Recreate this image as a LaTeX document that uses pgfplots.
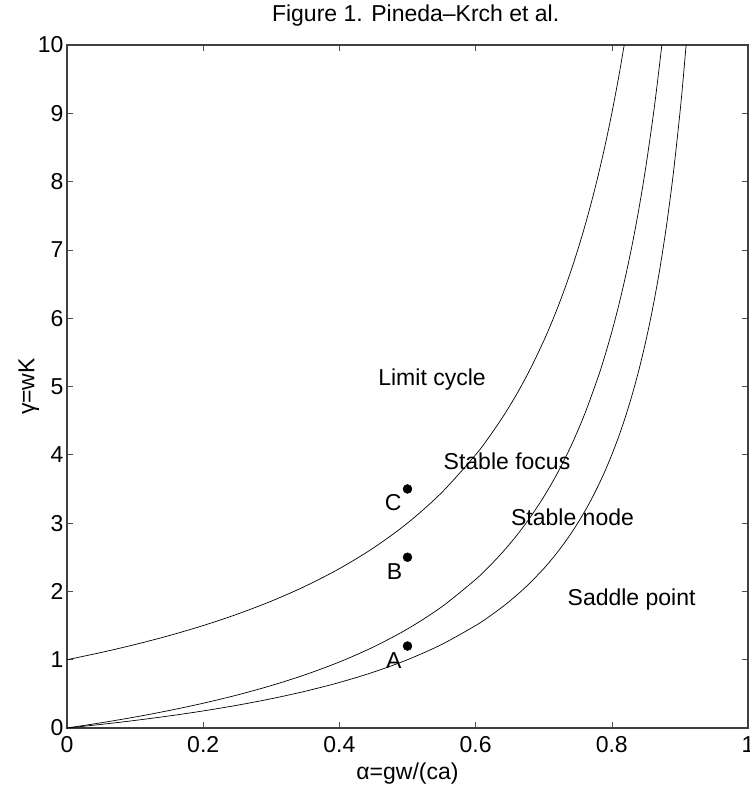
\documentclass[border=0pt]{standalone}
\usepackage{pgfplots}
\pgfplotsset{compat=1.18}
\usepackage{fontspec}
\setmainfont{Liberation Sans}
\newcommand{\fs}{\fontsize{23}{27}\selectfont}

% boundary curves
\pgfplotstableread{
a g
0 1
0.05 1.1053
0.1 1.2222
0.15 1.3529
0.2 1.5
0.25 1.6667
0.3 1.8571
0.35 2.0769
0.4 2.3333
0.45 2.6364
0.5 3
0.55 3.4444
0.6 4
0.62 4.2632
0.64 4.5556
0.66 4.8824
0.68 5.25
0.7 5.6667
0.71 5.8966
0.72 6.1429
0.73 6.4074
0.74 6.6923
0.75 7
0.76 7.3333
0.77 7.6957
0.78 8.0909
0.79 8.5238
0.8 9
0.81 9.5263
0.8182 10
}\hopf
\pgfplotstableread{
a g
0 0
0.05 0.0763
0.1 0.1611
0.15 0.2559
0.2 0.3625
0.25 0.4833
0.3 0.6214
0.35 0.7808
0.4 0.9667
0.45 1.1864
0.5 1.45
0.55 1.7722
0.6 2.175
0.62 2.3658
0.64 2.5778
0.66 2.8147
0.68 3.0813
0.7 3.3833
0.72 3.7286
0.74 4.1269
0.76 4.5917
0.78 5.1409
0.79 5.4548
0.8 5.8
0.81 6.1816
0.82 6.6056
0.83 7.0795
0.84 7.6125
0.85 8.2167
0.86 8.9071
0.865 9.2907
0.87 9.7038
0.8735 10
}\nodefocus
\pgfplotstableread{
a g
0 0
0.05 0.0526
0.1 0.1111
0.15 0.1765
0.2 0.25
0.25 0.3333
0.3 0.4286
0.35 0.5385
0.4 0.6667
0.45 0.8182
0.5 1
0.55 1.2222
0.6 1.5
0.62 1.6316
0.64 1.7778
0.66 1.9412
0.68 2.125
0.7 2.3333
0.71 2.4483
0.72 2.5714
0.73 2.7037
0.74 2.8462
0.75 3
0.76 3.1667
0.77 3.3478
0.78 3.5455
0.79 3.7619
0.8 4
0.81 4.2632
0.82 4.5556
0.83 4.8824
0.84 5.25
0.85 5.6667
0.86 6.1429
0.87 6.6923
0.88 7.3333
0.89 8.0909
0.9 9
0.905 9.5263
0.9091 10
}\saddle

\begin{document}
\begin{tikzpicture}
\path[use as bounding box] (-67pt,-60pt) rectangle (683pt,728pt);
\begin{axis}[
  at={(0pt,0pt)}, anchor=south west,
  scale only axis, width=681pt, height=683pt,
  xmin=0, xmax=1, ymin=0, ymax=10,
  xtick={0,0.2,0.4,0.6,0.8,1},
  xticklabels={0,0.2,0.4,0.6,0.8,1},
  ytick={0,1,2,3,4,5,6,7,8,9,10},
  tick align=inside, major tick length=6pt,
  tick style={gray!60!black, line width=0.6pt},
  axis line style={black!75, line width=1.3pt},
  ticklabel style={font=\fs},
  xticklabel style={yshift=-5pt},
  /pgf/number format/assume math mode=true,
  title={Figure 1. Pineda–Krch et al.},
  title style={font=\fs, at={(axis description cs:0.512,1.025)}, anchor=base},
  xlabel={α=gw/(ca)},
  xlabel style={font=\fs, at={(axis description cs:0.5,-0.066)}, anchor=center},
  ylabel={γ=wK},
  ylabel style={font=\fs, at={(axis description cs:-0.056,0.5)}, anchor=center},
]
\addplot[black, line width=0.7pt, smooth] table[x=a, y=g] {\hopf};
\addplot[black, line width=0.7pt, smooth] table[x=a, y=g] {\nodefocus};
\addplot[black, line width=0.7pt, smooth] table[x=a, y=g] {\saddle};
\addplot[only marks, mark=*, mark size=4.5pt, black] coordinates {(0.5,1.2) (0.5,2.5) (0.5,3.5)};
\node[font=\fs, anchor=west] at (axis cs:0.452,5.1) {Limit cycle};
\node[font=\fs, anchor=west] at (axis cs:0.548,3.9) {Stable focus};
\node[font=\fs, anchor=west] at (axis cs:0.647,3.08) {Stable node};
\node[font=\fs, anchor=west] at (axis cs:0.730,1.88) {Saddle point};
\node[font=\fs] at (axis cs:0.479,3.3) {C};
\node[font=\fs] at (axis cs:0.481,2.29) {B};
\node[font=\fs] at (axis cs:0.48,0.98) {A};
\end{axis}
\end{tikzpicture}
\end{document}
